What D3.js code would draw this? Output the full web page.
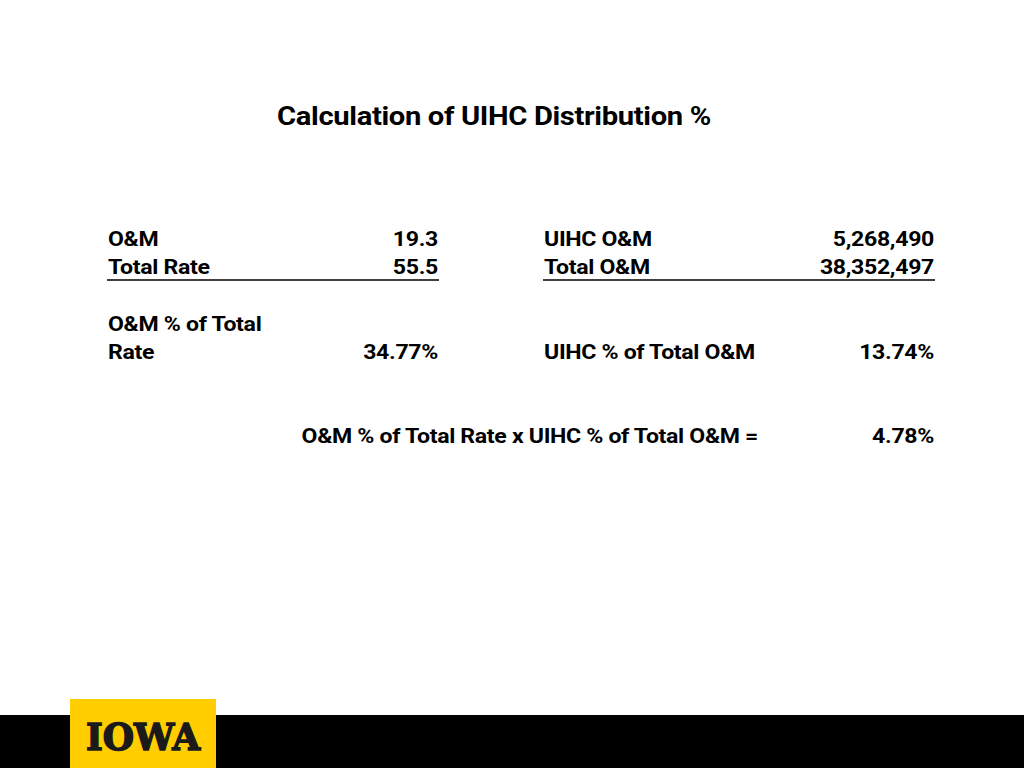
<!DOCTYPE html>
<html><head><meta charset="utf-8">
<script src="https://cdn.jsdelivr.net/npm/d3@7"></script>
<style>body{margin:0;background:#fff}svg{display:block}</style>
</head><body>
<script>
const title = "Calculation of UIHC Distribution %";
const leftLabels = ["O&M", "Total Rate"];
const leftValues = ["19.3", "55.5"];
const rightLabels = ["UIHC O&M", "Total O&M"];
const rightValues = ["5,268,490", "38,352,497"];
const leftPctLabel = ["O&M % of Total", "Rate"];
const leftPct = "34.77%";
const rightPctLabel = "UIHC % of Total O&M";
const rightPct = "13.74%";
const formulaLabel = "O&M % of Total Rate x UIHC % of Total O&M =";
const formulaValue = "4.78%";

const svg = d3.select("body").append("svg").attr("width",1024).attr("height",768);
const font = "Roboto, 'Noto Sans', sans-serif";
function t(x,y,s,anchor,size,stretch){
  const el = svg.append("text").attr("x",x).attr("y",y).text(s)
    .attr("text-anchor",anchor||"start").attr("font-family",font)
    .attr("font-weight","bold").attr("font-size",size||21).attr("fill","#000")
    .attr("letter-spacing","-0.3");
  const w = el.node().getComputedTextLength();
  el.attr("textLength", w*(stretch||1.1)).attr("lengthAdjust","spacingAndGlyphs");
  return el;
}
t(494,125,title,"middle",25,1.167);
const rows = d3.scaleBand().domain(d3.range(2)).range([228,284]);
leftLabels.forEach((l,i)=>{ t(108,rows(i)+18,l); t(438,rows(i)+18,leftValues[i],"end"); });
rightLabels.forEach((l,i)=>{ t(544,rows(i)+18,l); t(934,rows(i)+18,rightValues[i],"end"); });
svg.append("line").attr("x1",107).attr("x2",439).attr("y1",280).attr("y2",280).attr("stroke","#000").attr("stroke-width",1.5);
svg.append("line").attr("x1",543).attr("x2",935).attr("y1",280).attr("y2",280).attr("stroke","#000").attr("stroke-width",1.5);
t(108,331,leftPctLabel[0]); t(108,359,leftPctLabel[1]);
t(438,359,leftPct,"end");
t(544,359,rightPctLabel); t(934,359,rightPct,"end");
t(758,443,formulaLabel,"end"); t(934,443,formulaValue,"end");

svg.append("rect").attr("x",0).attr("y",715).attr("width",1024).attr("height",53).attr("fill","#000");
svg.append("rect").attr("x",70).attr("y",699).attr("width",146).attr("height",69).attr("fill","#FFCD00");
svg.append("text").attr("x",143).attr("y",750).text("IOWA").attr("text-anchor","middle")
  .attr("font-family","'DejaVu Serif', serif").attr("font-weight","bold").attr("font-size",37)
  .attr("fill","#1a1a1a").attr("stroke","#1a1a1a").attr("stroke-width",1.5)
  .attr("textLength",114).attr("lengthAdjust","spacingAndGlyphs");
</script>
</body></html>
